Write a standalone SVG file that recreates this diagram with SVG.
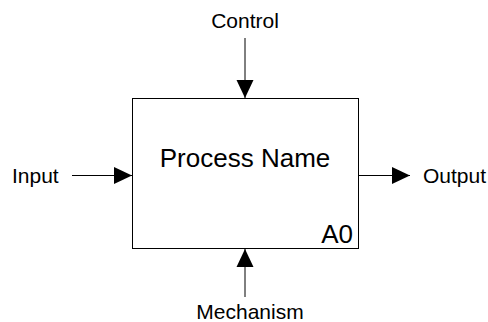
<svg xmlns="http://www.w3.org/2000/svg" width="488" height="322" viewBox="0 0 488 322">
  <style>
    .lbl { font-family: "Liberation Sans", Arial, sans-serif; font-size: 21px; fill: #000; }
    .title { font-family: "Liberation Sans", Arial, sans-serif; font-size: 26px; fill: #000; }
    .num { font-family: "Liberation Sans", Arial, sans-serif; font-size: 26px; fill: #000; }
    .conn { stroke: #000; stroke-width: 1; fill: none; }
    .box { fill: #fff; stroke: #000; stroke-width: 1; }
  </style>
  <defs>
    <marker id="arrow" viewBox="0 0 18 18" refX="18" refY="9" markerWidth="18" markerHeight="18" markerUnits="userSpaceOnUse" orient="auto">
      <path d="M0,0.5 L18,9 L0,17.5 Z" fill="#000"/>
    </marker>
  </defs>

  <!-- activity box with its name and node number -->
  <g id="process">
    <rect class="box" x="132.5" y="98.5" width="226" height="150"/>
    <text class="title" x="245" y="167" text-anchor="middle">Process Name</text>
    <text class="num" x="353" y="243" text-anchor="end">A0</text>
  </g>

  <!-- ICOM arrows: control from top, input from left, output to right, mechanism from below -->
  <g id="connectors">
    <line class="conn" x1="245" y1="38" x2="245" y2="98" marker-end="url(#arrow)"/>
    <line class="conn" x1="72" y1="175.5" x2="132" y2="175.5" marker-end="url(#arrow)"/>
    <line class="conn" x1="359" y1="175.5" x2="410" y2="175.5" marker-end="url(#arrow)"/>
    <line class="conn" x1="245" y1="297" x2="245" y2="249" marker-end="url(#arrow)"/>
  </g>

  <g id="control"><text class="lbl" x="245" y="27.5" text-anchor="middle">Control</text></g>
  <g id="input"><text class="lbl" x="12" y="183">Input</text></g>
  <g id="output"><text class="lbl" x="423" y="183">Output</text></g>
  <g id="mechanism"><text class="lbl" x="250" y="319" text-anchor="middle">Mechanism</text></g>
</svg>
